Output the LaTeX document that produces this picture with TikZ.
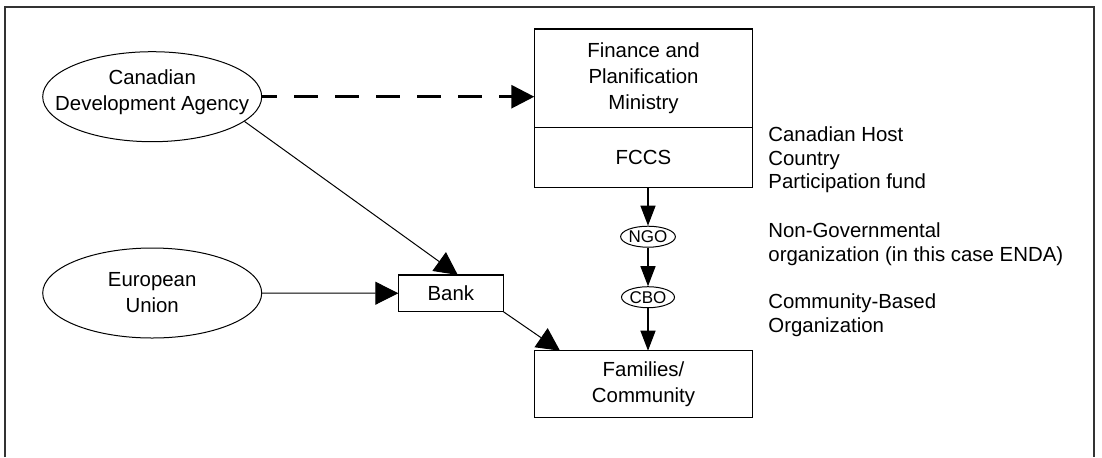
\documentclass[tikz,border=0pt]{standalone}
\usepackage{fontspec}
\setmainfont{Liberation Sans}
\usetikzlibrary{arrows.meta, positioning, calc, shapes.geometric}

\tikzset{
    agency/.style={draw, ellipse, line width=0.5pt, minimum width=109.5pt, minimum height=45pt, inner sep=0pt},
    agencytext/.style={align=center, font=\fontsize{10.2}{13}\selectfont},
    boxnode/.style={draw, rectangle, line width=0.6pt, minimum width=109.2pt, inner sep=0pt, outer sep=0pt, align=center, font=\fontsize{10.2}{13}\selectfont},
    tagnode/.style={draw, ellipse, line width=0.5pt, minimum width=26.5pt, minimum height=10.5pt, inner sep=0pt, font=\fontsize{8.5}{9}\selectfont},
    sidenote/.style={anchor=west, inner sep=0pt, align=left, font=\fontsize{10.2}{11.75}\selectfont},
    flowarrow/.style={line width=0.5pt, -{Triangle[length=11.5pt, width=11.5pt]}},
    droparrow/.style={line width=0.6pt, -{Triangle[length=10pt, width=7.5pt]}}
}

\begin{document}
\begin{tikzpicture}[x=0.5pt, y=-0.5pt]
    \useasboundingbox (0,0) rectangle (1102,457);

    % Frame (open at the bottom)
    \draw[line width=0.8pt, black!80] (5,457) -- (5,6.7) -- (1094,6.7) -- (1094,457);

    % Donors (left)
    \node[agency, label={[agencytext, yshift=2pt]center:Canadian\\Development Agency}] (cda) at (152.2,96.7) {};
    \node[agency, label={[agencytext]center:European\\Union}] (eu) at (152.2,293) {};

    % Bank
    \node[boxnode, minimum width=52.5pt, minimum height=18.35pt] (bank) at (450.8,293.3) {Bank};

    % Ministry and fund
    \node[boxnode, minimum height=49.35pt] (fin) at (643.5,78.4) {Finance and\\Planification\\Ministry};
    \node[boxnode, minimum height=29.8pt, below=0pt of fin] (fccs) {FCCS};

    % Intermediaries
    \node[tagnode] (ngo) at (648,236.7) {NGO};
    \node[tagnode] (cbo) at (648,297.2) {CBO};

    % Beneficiaries
    \node[boxnode, minimum height=33.3pt] (fam) at (643.5,384) {Families/\\Community};

    % Side notes
    \node[sidenote] (hostnote) at (768,160) {Canadian Host\\Country\\Participation fund};
    \node[sidenote] (ngonote) at (768,244.3) {Non-Governmental\\organization (in this case ENDA)};
    \node[sidenote] (cbonote) at (768,315.3) {Community-Based\\Organization};

    % Flows
    \coordinate (bankin) at ($(bank.north)+(7,0)$);
    \coordinate (famin) at ($(fam.north west)+(25.7,0)$);
    \draw[flowarrow, line width=1.5pt, dash pattern=on 12pt off 8.5pt, dash phase=4.5pt]
        (cda.east) -- (cda.east -| fin.west);
    \draw[flowarrow] (cda.-15) -- (bankin);
    \draw[flowarrow] (eu) -- (bank);
    \draw[flowarrow] (bank.south east) -- (famin);
    \draw[droparrow] (ngo.north |- fccs.south) -- (ngo);
    \draw[droparrow] (ngo) -- (cbo);
    \draw[droparrow] (cbo) -- (cbo |- fam.north);
\end{tikzpicture}
\end{document}
